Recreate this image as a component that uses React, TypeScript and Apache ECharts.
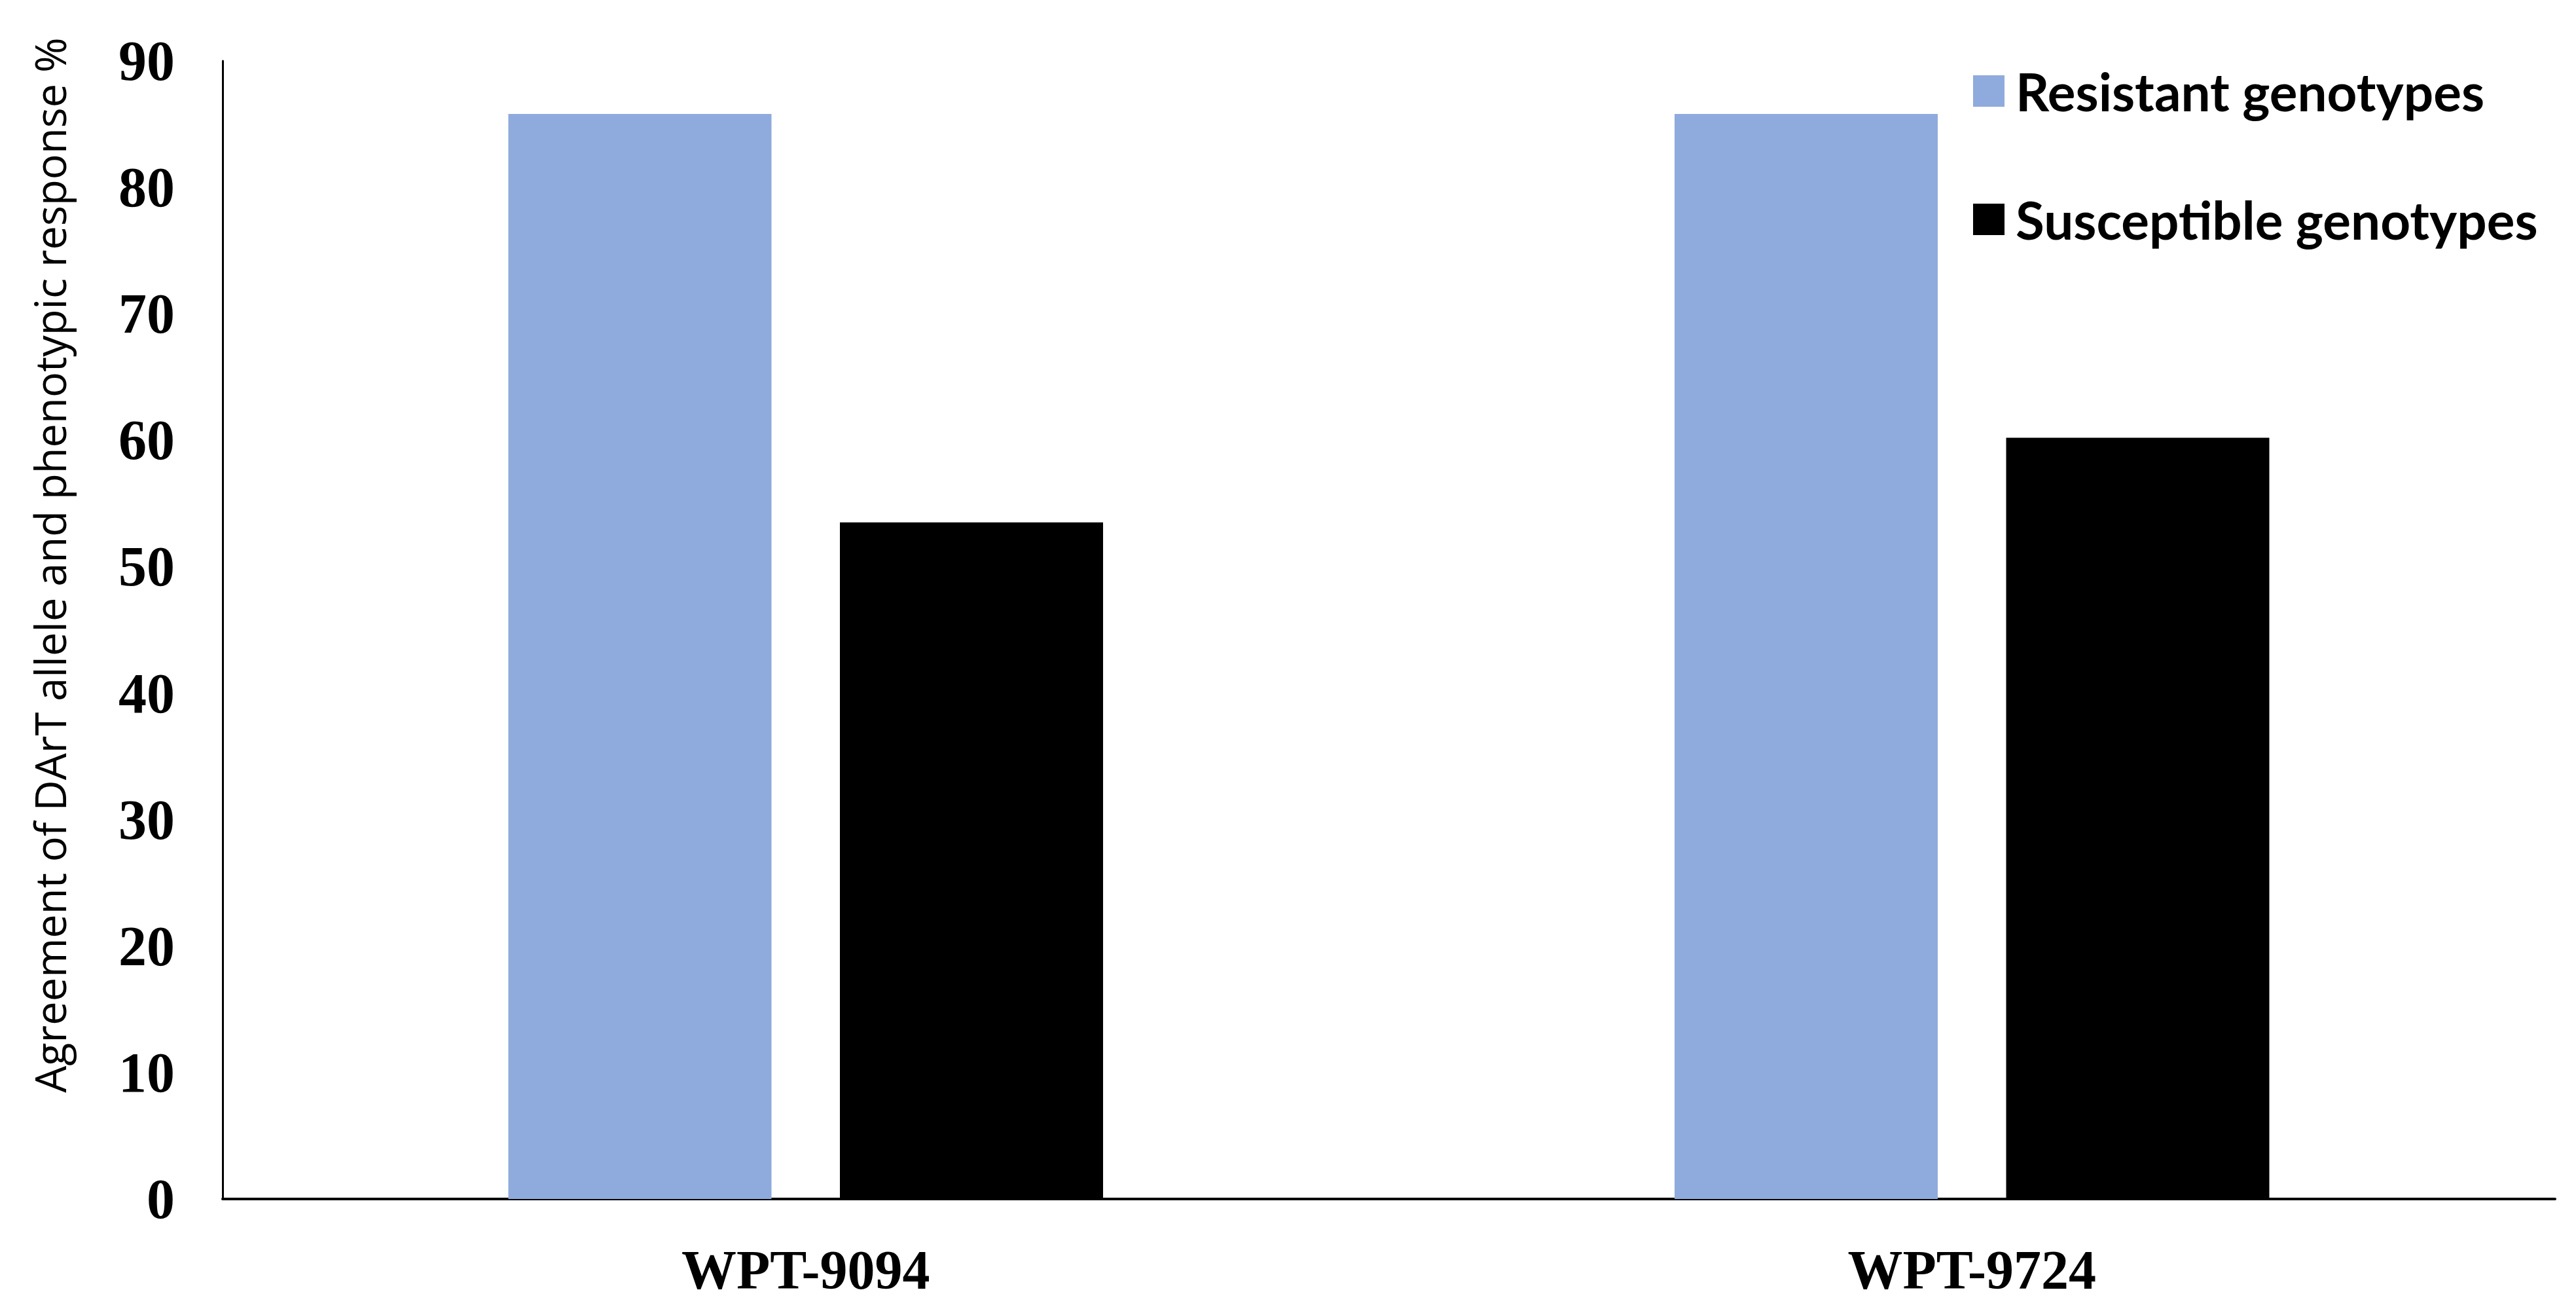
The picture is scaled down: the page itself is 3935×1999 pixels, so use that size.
import React, { useEffect, useRef } from "react";
import * as echarts from "echarts";

const categories = ["WPT-9094", "WPT-9724"];
const resistantValues = [85.8, 85.8];
const susceptibleValues = [53.5, 60.2];
const seriesNames = ["Resistant genotypes", "Susceptible genotypes"];
const yTitle = "Agreement of DArT allele and phenotypic response %";

export default function App() {
  const ref = useRef<HTMLDivElement>(null);
  useEffect(() => {
    if (!ref.current) return;
    const chart = echarts.init(ref.current, null, { renderer: "svg" });
    chart.setOption({
      animation: false,
      backgroundColor: "#ffffff",
      grid: { left: 340, right: 32, top: 93, bottom: 168, containLabel: false },
      legend: {
        orient: "vertical",
        left: 3009,
        top: 89,
        itemWidth: 48,
        itemHeight: 48,
        itemGap: 106,
        icon: "rect",
        data: seriesNames,
        textStyle: {
          fontFamily: "Lato",
          fontWeight: "bold",
          fontSize: 80,
          color: "#000",
          lineHeight: 90,
          padding: [0, 0, 0, 12],
        },
      },
      xAxis: {
        type: "category",
        data: categories,
        axisLine: { lineStyle: { color: "#000", width: 4 } },
        axisTick: { show: false },
        axisLabel: {
          margin: 66,
          fontFamily: "Liberation Serif",
          fontWeight: "bold",
          fontSize: 84,
          lineHeight: 84,
          color: "#000",
        },
      },
      yAxis: {
        type: "value",
        min: 0,
        max: 90,
        interval: 10,
        splitLine: { show: false },
        axisLine: { show: true, lineStyle: { color: "#000", width: 3 } },
        axisTick: { show: false },
        axisLabel: {
          margin: 73,
          fontFamily: "Liberation Serif",
          fontWeight: "bold",
          fontSize: 86,
          color: "#000",
        },
      },
      graphic: [
        {
          type: "text",
          x: 76,
          y: 863,
          rotation: Math.PI / 2,
          style: {
            text: yTitle,
            fontFamily: "Open Sans",
            fontSize: 65,
            fill: "#000",
            textAlign: "center",
            textVerticalAlign: "middle",
          },
        },
      ],
      series: [
        {
          name: seriesNames[0],
          type: "bar",
          data: resistantValues,
          barWidth: 402,
          barGap: "26%",
          itemStyle: { color: "#8FAADC" },
        },
        {
          name: seriesNames[1],
          type: "bar",
          data: susceptibleValues,
          barWidth: 402,
          barGap: "26%",
          itemStyle: { color: "#000000" },
        },
      ],
    });
    return () => chart.dispose();
  }, []);
  return (
    <div
      ref={ref}
      style={{ position: "fixed", left: 0, top: 0, width: 3935, height: 1999, background: "#fff" }}
    />
  );
}
